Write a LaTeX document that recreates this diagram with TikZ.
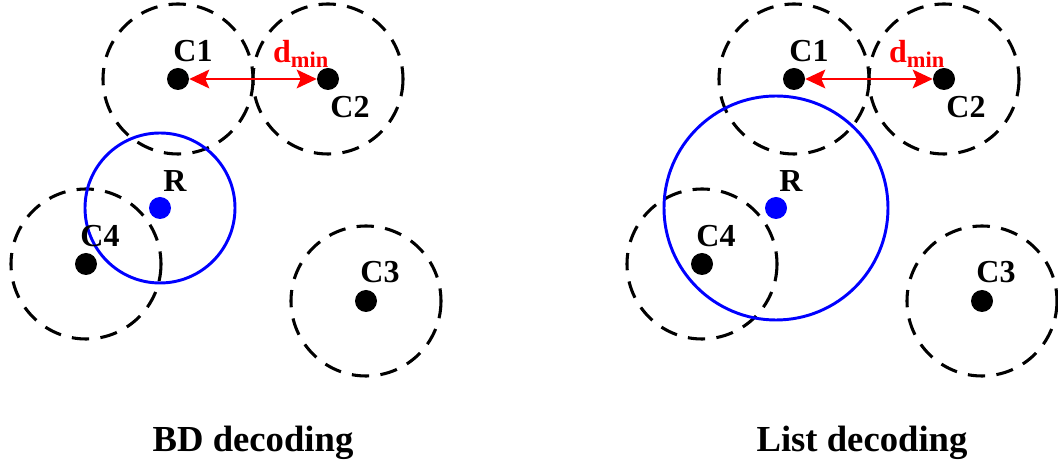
\documentclass[tikz,border=0pt]{standalone}
\usepackage{fontspec}
\setmainfont{Liberation Serif}
\usetikzlibrary{arrows.meta}

\begin{document}
\begin{tikzpicture}[x=0.75pt,y=-0.75pt,line join=round,
  region/.style={dash pattern=on 13pt off 8.5pt,line width=2.3pt},
  ball/.style={blue,line width=2.2pt},
  dot/.style={circle,fill,inner sep=0pt,minimum size=16.5pt},
  lbl/.style={font=\fontsize{24}{27}\selectfont\bfseries,inner sep=0pt},
  ttl/.style={font=\fontsize{27.5}{30}\selectfont\bfseries,anchor=base,inner sep=0pt}]
  \useasboundingbox (0,0) rectangle (1058,466);
  \foreach \dx/\rr/\s/\tx/\ttext in
   {0/75/a/253/BD decoding,616/112/b/246/List decoding}{
   \begin{scope}[shift={(\dx,0)}]
    \foreach \x/\y in {178/79,328/79,366/301,86/264}
      \draw[region] (\x,\y) circle (75);
    \draw[ball] (160,208) circle (\rr);
    \foreach \n/\x/\y/\lx/\ly in
     {1/178/79/15/-28,2/328/79/22/28,3/366/301/14/-29,4/86/264/14/-28}{
      \node[dot] (c\n\s) at (\x,\y) {};
      \node[lbl] (l\n\s) at ([shift={(\lx,\ly)}]c\n\s) {C\n};
    }
    \node[dot,blue] (r\s) at (160,208) {};
    \node[lbl] (lr\s) at ([shift={(15,-27)}]r\s) {R};
    \draw[red,line width=1.8pt,
      {Stealth[length=15pt,width=14pt,inset=3pt]}-{Stealth[length=15pt,width=14pt,inset=3pt]}]
      (c1\s) -- (c2\s);
    \node[lbl,red] (d\s) at (301,54) {d\textsubscript{min}};
    \node[ttl] (t\s) at (\tx,452) {\ttext};
   \end{scope}
  }
\end{tikzpicture}
\end{document}
